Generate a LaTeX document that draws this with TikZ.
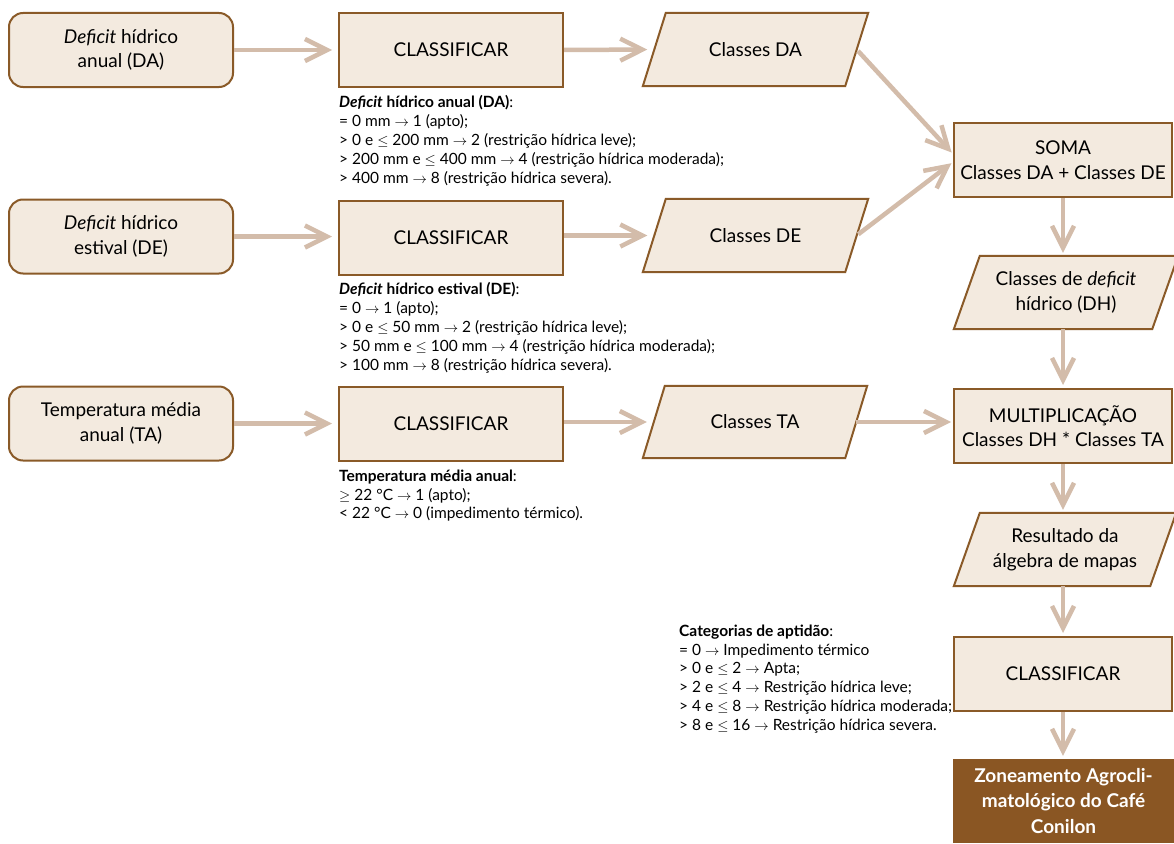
\documentclass[tikz,border=0pt]{standalone}
\usepackage{fontspec}
\setmainfont{Lato}
\usetikzlibrary{arrows.meta,calc,backgrounds}
\definecolor{bg}{HTML}{F3EADF}
\definecolor{brd}{HTML}{8A5A28}
\definecolor{arr}{HTML}{D3BCAA}
\definecolor{fin}{HTML}{8A5623}
\newcommand{\myarr}{$\rightarrow$}
\newcommand{\myle}{$\leq$}
\newcommand{\myge}{$\geq$}
\begin{document}
\begin{tikzpicture}[x=1pt,y=-1pt,
  mainfont/.style={font=\fontsize{19}{24.5}\selectfont},
  box/.style={mainfont,draw=brd,fill=bg,line width=2pt,inner sep=0pt,align=center,
    minimum width=224pt,minimum height=74pt},
  rbox/.style={box,rounded corners=14pt},
  wbox/.style={box,minimum width=218pt},
  para/.style={mainfont,inner sep=0pt,align=center,minimum height=73pt},
  note/.style={font=\fontsize{15.5}{18.8}\selectfont,align=left,inner sep=0pt,anchor=north west},
  flow/.style={draw=arr,line width=4.5pt,-{Straight Barb[length=22pt,width=22pt]}}
]
\useasboundingbox (0,0) rectangle (1174,843);

% inputs
\node[rbox] (inDA) at (121,50) {\textit{Deficit} hídrico\\anual (DA)};
\node[rbox] (inDE) at (121,236.5) {\textit{Deficit} hídrico\\estival (DE)};
\node[rbox] (inTA) at (121,423.5) {Temperatura média\\anual (TA)};

% classify
\node[box] (cl1) at (451,50) {CLASSIFICAR};
\node[box] (cl2) at (451,237.5) {CLASSIFICAR};
\node[box] (cl3) at (451,423.5) {CLASSIFICAR};

% parallelograms
\node[para,minimum width=202pt] (pDA) at (755.5,49.5) {Classes DA};
\node[para,minimum width=202pt] (pDE) at (755.5,235.5) {Classes DE};
\node[para,minimum width=202pt,minimum height=72pt] (pTA) at (755,422) {Classes TA};
\node[para,minimum width=198pt] (pDH) at (1066,292.5) {Classes de \textit{deficit}\\hídrico (DH)};
\node[para,minimum width=196pt] (pRes) at (1065,549.5) {Resultado da\\álgebra de mapas};

\begin{scope}[on background layer]
\foreach \n/\s in {pDA/11.5,pDE/11.5,pTA/11,pDH/13,pRes/13}{
  \filldraw[draw=brd,fill=bg,line width=2pt,line join=miter]
    ($(\n.north west)+(\s,0)$) -- ($(\n.north east)+(\s,0)$) --
    ($(\n.south east)+(-\s,0)$) -- ($(\n.south west)+(-\s,0)$) -- cycle;
}
\end{scope}

% right column
\node[wbox] (soma) at (1063,160) {SOMA\\Classes DA + Classes DE};
\node[wbox] (mult) at (1063,426) {MULTIPLICAÇÃO\\Classes DH * Classes TA};
\node[wbox] (cl4) at (1063,674) {CLASSIFICAR};
\node[fill=fin,text=white,inner sep=0pt,align=center,minimum width=221pt,minimum height=84pt,font=\fontsize{19}{25.5}\selectfont\bfseries] (fin) at (1063.5,801) {Zoneamento Agrocli-\\matológico do Café\\Conilon};

% notes
\node[note] (nDA) at (339,95.5) {\textbf{\textit{Deficit} hídrico anual (DA)}:\\
= 0 mm \myarr{} 1 (apto);\\
> 0 e \myle{} 200 mm \myarr{} 2 (restrição hídrica leve);\\
> 200 mm e \myle{} 400 mm \myarr{} 4 (restrição hídrica moderada);\\
> 400 mm \myarr{} 8 (restrição hídrica severa).};
\node[note] (nDE) at (339,282.5) {\textbf{\textit{Deficit} hídrico estival (DE)}:\\
= 0 \myarr{} 1 (apto);\\
> 0 e \myle{} 50 mm \myarr{} 2 (restrição hídrica leve);\\
> 50 mm e \myle{} 100 mm \myarr{} 4 (restrição hídrica moderada);\\
> 100 mm \myarr{} 8 (restrição hídrica severa).};
\node[note] (nTA) at (339,469.5) {\textbf{Temperatura média anual}:\\
\myge{} 22 °C \myarr{} 1 (apto);\\
< 22 °C \myarr{} 0 (impedimento térmico).};
\node[note] (nCat) at (679,624.5) {\textbf{Categorias de aptidão}:\\
= 0 \myarr{} Impedimento térmico\\
> 0 e \myle{} 2 \myarr{} Apta;\\
> 2 e \myle{} 4 \myarr{} Restrição hídrica leve;\\
> 4 e \myle{} 8 \myarr{} Restrição hídrica moderada;\\
> 8 e \myle{} 16 \myarr{} Restrição hídrica severa.};

% connectors
\draw[flow,shorten >=6pt] (inDA.east) -- (cl1.west);
\draw[flow,shorten >=6pt] (inDE.east) -- (cl2.west |- inDE.east);
\draw[flow,shorten >=6pt] (inTA.east) -- (cl3.west);
\draw[flow,shorten >=7pt] (cl1.east) -- (pDA.west);
\draw[flow,shorten >=7pt] (cl2.east |- pDE.west) -- (pDE.west);
\draw[flow,shorten >=7pt] (cl3.east |- pTA.west) -- (pTA.west);
\draw[flow,shorten <=2pt,shorten >=2pt] (pDA.east) -- ($(soma.west)+(0,-6)$);
\draw[flow,shorten <=2pt,shorten >=2pt] (pDE.east) -- ($(soma.west)+(0,2)$);
\draw[flow,shorten >=2pt] (pTA.east) -- (mult.west |- pTA.east);
\draw[flow,shorten >=3pt] (soma.south) -- (soma.south |- pDH.north);
\draw[flow,shorten >=3pt] (soma.south |- pDH.south) -- (mult.north);
\draw[flow,shorten >=3pt] (mult.south) -- (mult.south |- pRes.north);
\draw[flow,shorten >=3pt] (mult.south |- pRes.south) -- (cl4.north);
\draw[flow,shorten >=3pt] (cl4.south) -- (fin.north -| cl4.south);
\end{tikzpicture}
\end{document}
